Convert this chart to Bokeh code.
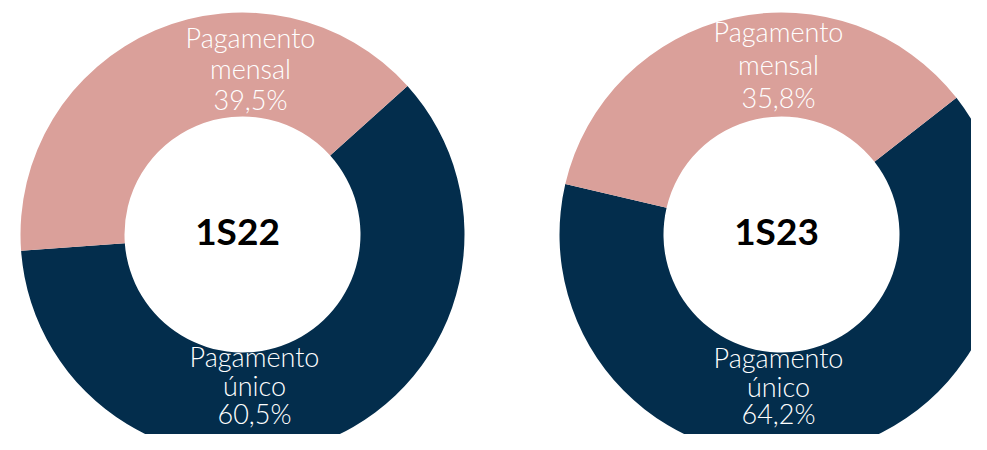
from bokeh.plotting import figure
from bokeh.models import Range1d, ColumnDataSource
from bokeh.core.properties import value
from bokeh.embed import file_html
from bokeh.resources import INLINE
import math

# ---- data ----
periods = ["1S22", "1S23"]
categories = ["Pagamento único", "Pagamento mensal"]
unico = [60.5, 64.2]
mensal = [39.5, 35.8]
unico_labels = ["60,5%", "64,2%"]
mensal_labels = ["39,5%", "35,8%"]

colors = ["#032D4C", "#DAA09A"]

# ---- layout (screen-pixel coordinates, y measured upward) ----
W, H = 971, 434
centers_x = [242, 781]
center_y_screen = 234
start_cw = [48.0, 52.0]  # rotation of first slice, degrees clockwise from top
r_in, r_out = 118, 222

def sy(y):
    return 450 - y

p = figure(width=W, height=H, output_backend="svg", toolbar_location=None,
           x_range=Range1d(0, W), y_range=Range1d(450 - H, 450),
           min_border=0)
p.axis.visible = False
p.grid.visible = False
p.outline_line_color = None
p.background_fill_color = "white"
p.border_fill_color = "white"

for i in range(len(periods)):
    vals = [unico[i], mensal[i]]
    a = start_cw[i]
    xs, ys, st, en, cols = [], [], [], [], []
    for v, c in zip(vals, colors):
        b = a + v * 3.6
        st.append(math.radians(90 - b))
        en.append(math.radians(90 - a))
        xs.append(centers_x[i]); ys.append(sy(center_y_screen)); cols.append(c)
        a = b
    src = ColumnDataSource(dict(x=xs, y=ys, s=st, e=en, c=cols))
    p.annular_wedge(x="x", y="y", inner_radius=r_in, outer_radius=r_out,
                    start_angle="s", end_angle="e", fill_color="c", line_color=None,
                    source=src)

    # center label
    p.text(x=[centers_x[i] - 5], y=[sy(center_y_screen - 4)], text=[periods[i]],
           text_font=value("Lato"), text_font_style="bold", text_font_size="37px",
           text_color="black", text_align="center", text_baseline="middle")

# slice labels
top_lines = [["Pagamento", "mensal", mensal_labels[0]], ["Pagamento", "mensal", mensal_labels[1]]]
bot_lines = [["Pagamento", "único", unico_labels[0]], ["Pagamento", "único", unico_labels[1]]]
top_base = [[37, 68, 99], [31, 64, 97]]
bot_base = [[356, 385, 413], [357, 386, 413]]
top_cx = [250, 778]
bot_cx = [254, 778]
for i in range(2):
    for lines, bases, cx in ((top_lines[i], top_base[i], top_cx[i]), (bot_lines[i], bot_base[i], bot_cx[i])):
        p.text(x=[cx] * 3, y=[sy(b) for b in bases], text=lines,
               text_font=value("Lato Light, Lato"), text_font_size="27px", text_color="white",
               text_align="center", text_baseline="alphabetic")

open("out.html", "w").write(file_html(p, INLINE))
